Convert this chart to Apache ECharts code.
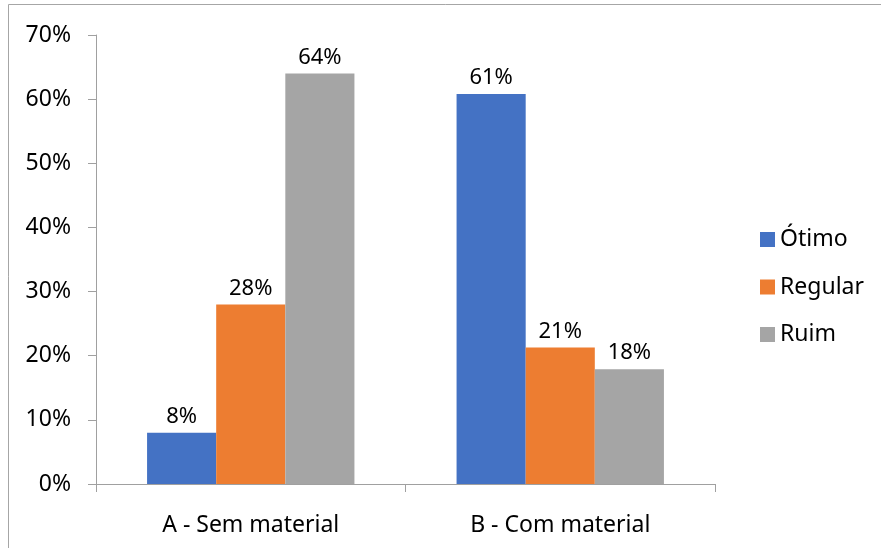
<!DOCTYPE html>
<html><head><meta charset="utf-8">
<script src="https://cdn.jsdelivr.net/npm/echarts@6/dist/echarts.min.js"></script>
<style>html,body{margin:0;padding:0;background:#fff}#c{width:881px;height:548px}</style>
</head><body><div id="c"></div>
<script>
const categories = ['A - Sem material', 'B - Com material'];
const otimo = [0.08, 0.608];
const regular = [0.28, 0.213];
const ruim = [0.64, 0.179];
const yTicks = [0, 0.1, 0.2, 0.3, 0.4, 0.5, 0.6, 0.7];

const font = '"Noto Sans", "Open Sans", sans-serif';
const fs = 23;
const chart = echarts.init(document.getElementById('c'));
const lbl = {show: true, position: 'top', color: '#000', fontSize: 22, fontFamily: font, distance: 5,
  formatter: p => Math.round(p.value * 100) + '%'};
function s(name, data, color) {
  return {name, type: 'bar', data, itemStyle: {color}, label: lbl, barGap: '0%', barCategoryGap: '33%'};
}
chart.setOption({
  animation: false,
  textStyle: {fontFamily: font},
  graphic: [{type: 'rect', shape: {x: 8.5, y: 4.5, width: 900, height: 600}, style: {fill: null, stroke: '#a6a6a6', lineWidth: 1}}],
  grid: {left: 96, right: 166, top: 35, bottom: 64, containLabel: false},
  legend: {orient: 'vertical', left: 755, top: 223, itemWidth: 15, itemHeight: 15, itemGap: 24.5,
    icon: 'rect', textStyle: {fontSize: fs, color: '#000', fontFamily: font}},
  xAxis: {type: 'category', data: categories,
    axisLine: {lineStyle: {color: '#a0a0a0'}},
    axisTick: {show: true, length: 8, lineStyle: {color: '#a0a0a0'}},
    axisLabel: {color: '#000', fontSize: fs, fontFamily: font, margin: 30}},
  yAxis: {type: 'value', min: 0, max: yTicks[yTicks.length - 1], interval: 0.1,
    splitLine: {show: false},
    axisLine: {show: true, lineStyle: {color: '#a0a0a0'}},
    axisTick: {show: true, length: 8, lineStyle: {color: '#a0a0a0'}},
    axisLabel: {color: '#000', fontSize: fs, fontFamily: font, margin: 25,
      formatter: v => Math.round(v * 100) + '%'}},
  series: [s('Ótimo', otimo, '#4472c4'), s('Regular', regular, '#ed7d31'), s('Ruim', ruim, '#a5a5a5')]
});
</script></body></html>
